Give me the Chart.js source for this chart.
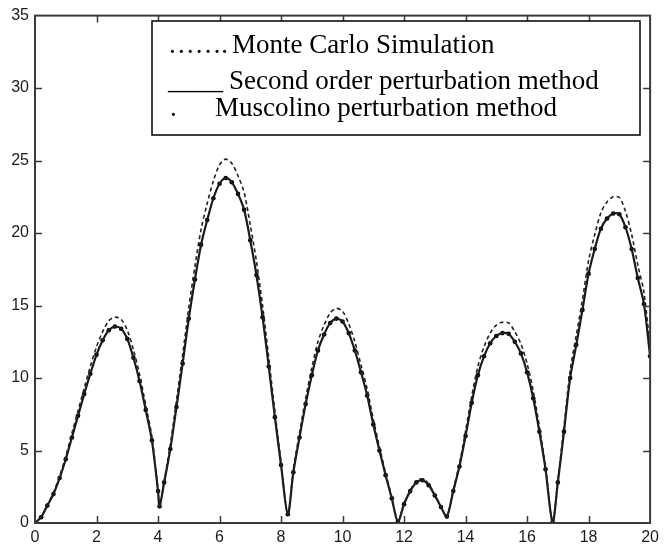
<!DOCTYPE html>
<html>
<head>
<meta charset="utf-8">
<script src="https://cdn.jsdelivr.net/npm/chart.js@4/dist/chart.umd.min.js"></script>
<style>
  html, body { margin: 0; padding: 0; background: #fff; }
  #wrap { width: 664px; height: 551px; position: relative; }
</style>
</head>
<body>
<div id="wrap"><canvas id="c" width="664" height="551"></canvas></div>
<script>
// ---- data ----
const xValues = [
  0,0.2,0.4,0.6,0.8,1.0,1.2,1.4,1.6,1.8,2.0,2.2,2.4,2.6,2.8,3.0,3.2,3.4,3.6,3.8,4.0,4.05,
  4.2,4.4,4.6,4.8,5.0,5.2,5.4,5.6,5.8,6.0,6.2,6.4,6.6,6.8,7.0,7.2,7.4,7.6,7.8,8.0,8.22,
  8.4,8.6,8.8,9.0,9.2,9.4,9.6,9.8,10.0,10.2,10.4,10.6,10.8,11.0,11.2,11.4,11.6,11.8,
  12.0,12.2,12.4,12.6,12.8,13.0,13.2,13.39,
  13.6,13.8,14.0,14.2,14.4,14.6,14.8,15.0,15.2,15.4,15.6,15.8,16.0,16.2,16.4,16.6,16.83,
  17.0,17.2,17.4,17.6,17.8,18.0,18.2,18.4,18.6,18.8,19.0,19.2,19.4,19.6,19.8,20.0
];
const monteCarlo = [
  0,0.4,1.25,2.1,3.25,4.6,6.2,7.75,9.3,10.8,12.15,13.2,13.95,14.2,14.05,13.3,11.95,10.25,8.15,5.95,2.3,1.15,
  2.9,5.4,8.45,11.6,14.85,17.7,20.25,22.05,23.6,24.7,25.1,24.8,23.95,22.8,20.55,18.05,15.0,11.4,7.7,4.2,0.6,
  3.7,6.2,8.6,10.7,12.5,13.65,14.5,14.8,14.6,13.75,12.5,10.9,9.25,7.15,5.25,3.45,1.8,0.1,
  1.35,2.25,2.9,3.05,2.7,1.95,1.15,0.45,
  2.3,4.1,6.35,8.75,10.8,12.15,13.1,13.65,13.85,13.8,13.2,12.35,11.0,9.1,6.65,3.9,0.05,
  2.95,6.65,10.5,12.95,15.4,18.1,19.9,21.4,22.15,22.5,22.45,21.5,19.9,17.8,15.9,12.1
];
const secondOrder = [
  0,0.4,1.2,2.0,3.1,4.4,5.9,7.4,8.9,10.3,11.6,12.6,13.3,13.55,13.4,12.7,11.4,9.8,7.8,5.7,2.2,1.15,
  2.8,5.1,8.0,11.0,14.1,16.8,19.2,20.9,22.4,23.4,23.8,23.5,22.7,21.6,19.5,17.1,14.2,10.8,7.3,4.0,0.6,
  3.5,5.9,8.2,10.2,11.9,13.0,13.8,14.1,13.9,13.1,11.9,10.4,8.8,6.8,5.0,3.3,1.7,0.1,
  1.3,2.2,2.8,2.95,2.6,1.9,1.1,0.45,
  2.2,3.9,6.0,8.3,10.2,11.5,12.4,12.9,13.1,13.05,12.5,11.7,10.4,8.6,6.3,3.7,0.05,
  2.8,6.3,10.0,12.3,14.7,17.2,18.9,20.3,21.0,21.35,21.3,20.4,18.9,16.9,15.1,11.5
];
const muscolino = [
  0,0.4,1.2,2.0,3.1,4.4,5.9,7.4,8.9,10.3,11.6,12.6,13.3,13.55,13.4,12.7,11.4,9.8,7.8,5.7,2.2,1.15,
  2.8,5.1,8.0,11.0,14.1,16.8,19.2,20.9,22.4,23.4,23.8,23.5,22.7,21.6,19.5,17.1,14.2,10.8,7.3,4.0,0.6,
  3.5,5.9,8.2,10.2,11.9,13.0,13.8,14.1,13.9,13.1,11.9,10.4,8.8,6.8,5.0,3.3,1.7,0.1,
  1.3,2.2,2.8,2.95,2.6,1.9,1.1,0.45,
  2.2,3.9,6.0,8.3,10.2,11.5,12.4,12.9,13.1,13.05,12.5,11.7,10.4,8.6,6.3,3.7,0.05,
  2.8,6.3,10.0,12.3,14.7,17.2,18.9,20.3,21.0,21.35,21.3,20.4,18.9,16.9,15.1,11.5
];
const xTicks = [0,2,4,6,8,10,12,14,16,18,20];
const yTicks = [0,5,10,15,20,25,30,35];
const legendLines = [
  { mark: "…….", label: "Monte Carlo Simulation" },
  { mark: "_____", label: "Second order perturbation method" },
  { mark: ".", label: "Muscolino perturbation method" }
];

const pts = arr => arr.map((y, i) => ({ x: xValues[i], y: y }));

// ---- frame + inside ticks ----
const framePlugin = {
  id: 'frame',
  afterDatasetsDraw(chart) {
    const { ctx, chartArea: a, scales } = chart;
    ctx.save();
    ctx.strokeStyle = '#3a3a3a';
    ctx.lineWidth = 1.5;
    const tl = 7;
    ctx.beginPath();
    xTicks.forEach(v => {
      const px = Math.round(scales.x.getPixelForValue(v)) + 0.5;
      if (v === xTicks[0] || v === xTicks[xTicks.length - 1]) return;
      ctx.moveTo(px, a.bottom); ctx.lineTo(px, a.bottom - tl);
      ctx.moveTo(px, a.top); ctx.lineTo(px, a.top + tl);
    });
    yTicks.forEach(v => {
      const py = Math.round(scales.y.getPixelForValue(v)) + 0.5;
      if (v === yTicks[0] || v === yTicks[yTicks.length - 1]) return;
      ctx.moveTo(a.left, py); ctx.lineTo(a.left + tl, py);
      ctx.moveTo(a.right, py); ctx.lineTo(a.right - tl, py);
    });
    ctx.stroke();
    ctx.lineWidth = 2;
    ctx.strokeRect(a.left, a.top, a.right - a.left, a.bottom - a.top);
    ctx.restore();
  }
};

// ---- text legend box ----
const legendPlugin = {
  id: 'textLegend',
  afterDraw(chart) {
    const ctx = chart.ctx;
    ctx.save();
    const bx = 152, by = 21, bw = 488, bh = 114;
    ctx.fillStyle = '#fff';
    ctx.fillRect(bx, by, bw, bh);
    ctx.strokeStyle = '#000';
    ctx.lineWidth = 1.5;
    ctx.strokeRect(bx, by, bw, bh);
    ctx.fillStyle = '#000';
    ctx.textBaseline = 'alphabetic';
    ctx.textAlign = 'left';
    ctx.font = '27px "Liberation Serif", "Times New Roman", serif';
    const rows = [
      { mx: 168, mw: 60, lx: 232, ly: 53 },
      { mx: 168, mw: 55, lx: 229, ly: 89 },
      { mx: 170, mw: 8,  lx: 215, ly: 116 }
    ];
    legendLines.forEach((l, i) => {
      const r = rows[i];
      ctx.fillText(l.mark, r.mx, r.ly, r.mw);
      ctx.fillText(l.label, r.lx, r.ly);
    });
    ctx.restore();
  }
};

new Chart(document.getElementById('c'), {
  type: 'line',
  data: {
    datasets: [
      {
        label: 'Monte Carlo Simulation',
        data: pts(monteCarlo),
        borderColor: '#222',
        borderWidth: 1.6,
        borderDash: [4, 3],
        pointRadius: 0,
        tension: 0.3,
        fill: false
      },
      {
        label: 'Second order perturbation method',
        data: pts(secondOrder),
        borderColor: '#1a1a1a',
        borderWidth: 2.2,
        pointRadius: 0,
        tension: 0.3,
        fill: false
      },
      {
        label: 'Muscolino perturbation method',
        data: pts(muscolino),
        showLine: false,
        pointRadius: 2.3,
        pointBackgroundColor: '#000',
        pointBorderWidth: 0,
        borderColor: '#000'
      }
    ]
  },
  options: {
    responsive: false,
    animation: false,
    devicePixelRatio: 1,
    layout: { padding: { top: 14, right: 10, left: 0, bottom: 0 } },
    plugins: { legend: { display: false }, tooltip: { enabled: false } },
    scales: {
      x: {
        type: 'linear',
        min: 0, max: 20,
        afterFit: s => { s.height = 28; },
        afterBuildTicks: s => { s.ticks = xTicks.map(v => ({ value: v })); },
        grid: { display: false, drawTicks: false },
        border: { display: false },
        ticks: {
          padding: 5,
          maxRotation: 0,
          autoSkip: false,
          color: '#1c1c1c',
          font: { family: '"Liberation Sans", Arial, sans-serif', size: 16 }
        }
      },
      y: {
        type: 'linear',
        min: 0, max: 35,
        afterFit: s => { s.width = 35; },
        afterBuildTicks: s => { s.ticks = yTicks.map(v => ({ value: v })); },
        grid: { display: false, drawTicks: false },
        border: { display: false },
        ticks: {
          padding: 6,
          autoSkip: false,
          color: '#1c1c1c',
          font: { family: '"Liberation Sans", Arial, sans-serif', size: 16 }
        }
      }
    }
  },
  plugins: [framePlugin, legendPlugin]
});
</script>
</body>
</html>
